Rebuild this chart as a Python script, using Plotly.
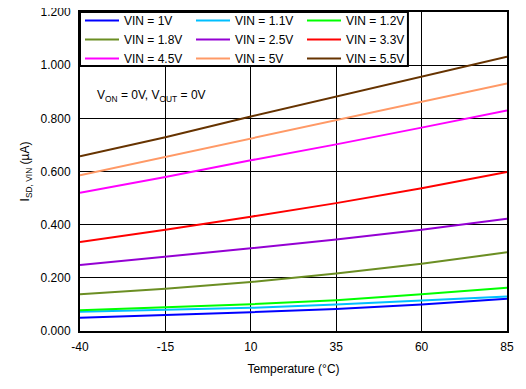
import plotly.graph_objects as go

temps = [-40, -15, 10, 35, 60, 85]
labels = ["VIN = 1V", "VIN = 1.1V", "VIN = 1.2V", "VIN = 1.8V", "VIN = 2.5V",
          "VIN = 3.3V", "VIN = 4.5V", "VIN = 5V", "VIN = 5.5V"]
vin_1v0 = [0.050, 0.060, 0.071, 0.083, 0.100, 0.121]
vin_1v1 = [0.072, 0.079, 0.087, 0.100, 0.114, 0.130]
vin_1v2 = [0.078, 0.089, 0.101, 0.116, 0.138, 0.163]
vin_1v8 = [0.138, 0.159, 0.184, 0.216, 0.253, 0.296]
vin_2v5 = [0.248, 0.279, 0.311, 0.344, 0.381, 0.422]
vin_3v3 = [0.335, 0.381, 0.430, 0.481, 0.537, 0.598]
vin_4v5 = [0.520, 0.579, 0.642, 0.702, 0.765, 0.830]
vin_5v0 = [0.586, 0.655, 0.724, 0.793, 0.862, 0.931]
vin_5v5 = [0.657, 0.729, 0.807, 0.882, 0.957, 1.032]
series = [vin_1v0, vin_1v1, vin_1v2, vin_1v8, vin_2v5, vin_3v3, vin_4v5, vin_5v0, vin_5v5]
colors = ["#0000FF", "#00BFFF", "#00FF00", "#6B8E23", "#9400D3",
          "#FF0000", "#FF00FF", "#FF9966", "#663300"]
x_ticks = [-40, -15, 10, 35, 60, 85]
y_ticks = [0, 0.2, 0.4, 0.6, 0.8, 1.0, 1.2]

font = "Liberation Sans, Arial, sans-serif"
fig = go.Figure()
for lab, ys, c in zip(labels, series, colors):
    fig.add_trace(go.Scatter(x=temps, y=ys, mode="lines", name=lab,
                             line=dict(color=c, width=2)))

fig.update_layout(
    width=518, height=381,
    margin=dict(l=72, r=19, t=4, b=58, autoexpand=False),
    paper_bgcolor="white", plot_bgcolor="white",
    font=dict(family=font, size=12, color="black"),
    showlegend=True,
    legend=dict(orientation="h", x=0, y=1.0188, xanchor="left", yanchor="top",
                entrywidth=62, entrywidthmode="pixels",
                bgcolor="rgba(0,0,0,0)", borderwidth=0,
                font=dict(family=font, size=12), tracegroupgap=0,
                itemwidth=34),
    shapes=[dict(type="rect", xref="paper", yref="paper",
                 x0=0, x1=0.768, y0=0.8307, y1=1,
                 line=dict(color="black", width=2), fillcolor="white",
                 layer="above")],
    xaxis=dict(range=[-40, 85], tickvals=x_ticks, ticktext=[str(v) for v in x_ticks],
               showgrid=True, gridcolor="black", gridwidth=1,
               showline=True, linecolor="black", linewidth=2, mirror=True,
               ticks="", zeroline=False, automargin=False, ticklabelstandoff=4,
               ticklabeloverflow="allow",
               title=dict(text="Temperature (°C)", font=dict(size=12), standoff=11)),
    yaxis=dict(range=[0, 1.2], tickvals=y_ticks, tickformat=".3f",
               showgrid=True, gridcolor="black", gridwidth=1,
               showline=True, linecolor="black", linewidth=2, mirror=True,
               ticks="", zeroline=False, automargin=False, ticklabelstandoff=5,
               ticklabeloverflow="allow",
               title=dict(text="I<sub>SD, VIN</sub> (µA)", font=dict(size=12), standoff=8)),
    annotations=[dict(text="V<sub>ON</sub> = 0V, V<sub>OUT</sub> = 0V",
                      xref="paper", yref="paper", x=0.035, y=0.737,
                      xanchor="left", yanchor="middle", showarrow=False,
                      font=dict(family=font, size=12))],
)

fig.write_html("out.html")
